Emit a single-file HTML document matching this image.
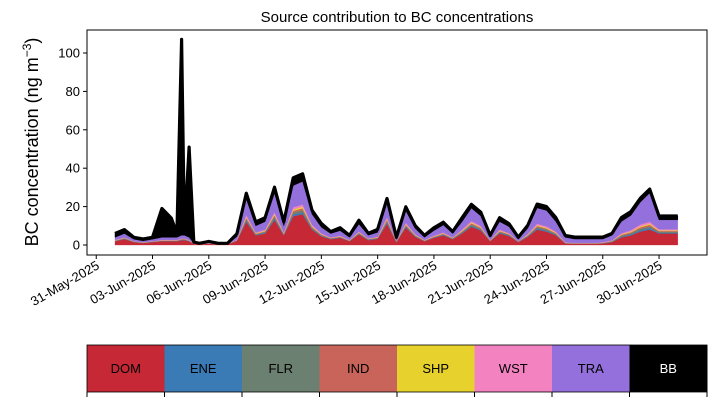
<!DOCTYPE html>
<html><head><meta charset="utf-8"><style>
body{margin:0;background:#fff;}
svg text{font-family:"Liberation Sans",sans-serif;}
</style></head><body>
<svg id="chart" width="717" height="402" viewBox="0 0 717 402" xmlns="http://www.w3.org/2000/svg"></svg>
<script>
// Sample times in days since 01-Jun-2025
const days = [0,0.5,1,1.5,2,2.5,3,3.3,3.55,3.7,3.95,4.2,4.5,5,5.5,6,6.5,7,7.5,8,8.5,9,9.5,10,10.5,11,11.5,12,12.5,13,13.5,14,14.5,15,15.5,16,16.5,17,17.5,18,18.5,19,19.5,20,20.5,21,21.5,22,22.5,23,23.5,24,24.5,25,25.5,26,26.5,27,27.5,28,28.5,29,29.5,30];
const categories = ["DOM","ENE","FLR","IND","SHP","WST","TRA","BB"];
const colors = ["#c62836","#3a7ab5","#6b8070","#c8645a","#e7d22d","#f283c0","#9370db","#000000"];
const DOM = [2,3,1.5,1,1.5,2,2,2,2.5,2.5,2,0.6,0.4,0.8,0.4,0.4,2.2,12,5,6,13,5,15,16,8,4.5,3,3.7,2,5.5,2.5,3.2,11,1.5,9,4.2,2,3.7,5,3,6,9.5,7.5,2,6,4.7,1.5,4.2,8,7,5,0.8,0.6,0.6,0.6,0.8,1.5,4,5,7,8,6,6,6];
const ENE = [.1,.2,.1,.1,.1,.1,.1,.1,.2,.2,.1,0,0,0,0,0,.1,.7,.3,.4,.8,.3,.9,1,.5,.3,.2,.2,.1,.3,.2,.2,.7,.1,.5,.3,.1,.2,.3,.2,.4,.6,.5,.1,.4,.3,.1,.3,.6,.5,.4,.1,.1,.1,.1,.1,.2,.4,.5,.7,.8,.4,.4,.4];
const FLR = [.1,.2,.1,.1,.1,.1,.1,.1,.2,.2,.1,0,0,0,0,0,.1,.8,.3,.4,.9,.3,1,1.1,.5,.3,.2,.2,.1,.3,.2,.2,.7,.1,.5,.3,.1,.2,.3,.2,.4,.6,.5,.1,.4,.3,.1,.3,.7,.6,.4,.1,.1,.1,.1,.1,.2,.5,.6,.8,.9,.5,.5,.5];
const IND = [.1,.2,.1,.1,.1,.1,.1,.1,.2,.2,.1,0,0,0,0,0,.1,.7,.3,.4,.8,.3,.9,1,.5,.3,.2,.2,.1,.3,.2,.2,.7,.1,.5,.3,.1,.2,.3,.2,.4,.6,.5,.1,.4,.3,.1,.3,.6,.5,.4,.1,.1,.1,.1,.1,.2,.4,.5,.7,.8,.4,.4,.4];
const SHP = [.1,.1,.1,.1,.1,.1,.1,.1,.1,.1,.1,0,0,0,0,0,.1,.5,.2,.3,.6,.2,.7,.8,.4,.2,.1,.2,.1,.2,.1,.2,.5,.1,.4,.2,.1,.2,.2,.1,.3,.4,.3,.1,.3,.2,.1,.2,.4,.4,.3,.1,.1,.1,.1,.1,.1,.3,.4,.5,.6,.3,.3,.3];
const WST = [.2,.2,.1,.1,.1,.2,.2,.2,.2,.2,.2,.1,0,.1,0,0,.2,.9,.4,.5,1,.4,1.1,1.2,.6,.4,.2,.3,.2,.4,.2,.3,.9,.1,.7,.3,.2,.3,.4,.2,.5,.8,.6,.2,.5,.4,.1,.4,.8,.7,.5,.2,.1,.1,.1,.2,.2,.5,.7,.9,1,.5,.5,.5];
const TRA = [1.4,2.1,1,0.7,1,1.4,1.4,1.4,1.7,1.7,1.4,.3,.2,.5,.2,.2,1.6,8.4,3.5,4.2,10,3.5,11.4,12,5.6,3.2,2.1,2.7,1.4,3.9,1.7,2.3,7.7,1,6.3,3,1.4,2.7,3.9,2.1,4.2,6.7,5.2,1.4,4.2,3.4,1,3,8.2,8.3,5.2,2.6,2,2,2,1.7,2.7,6.2,7.7,11.7,15,5,5,5];
const BB = [2,2,1,1,1,15,10,2,102,2,47,0.5,0.3,0.5,0.3,0.3,1.5,3,2,2,3,2,4,4,2,2,1,1.5,1,2,1,1.5,2,1,2,1.5,1,1.5,1.5,1,2,2,2,1,2,1.5,1,1.5,2,2,2,1,1,1,1,1,1,2,2,2,2,2,2,2];
const yTicks = [0,20,40,60,80,100];
const xTickLabels = ["31-May-2025","03-Jun-2025","06-Jun-2025","09-Jun-2025","12-Jun-2025","15-Jun-2025","18-Jun-2025","21-Jun-2025","24-Jun-2025","27-Jun-2025","30-Jun-2025"];
const xTickDays = [-1,2,5,8,11,14,17,20,23,26,29];

const series = [DOM,ENE,FLR,IND,SHP,WST,TRA,BB];
const NS = "http://www.w3.org/2000/svg";
const svg = document.getElementById("chart");
const L=87,R=707,T=30,B=255;
const xDay = d => 115 + d*18.76;
const xIdx = i => xDay(days[i]);
const yV = v => 245 - v*1.92;
function mk(tag, attrs, parent){const e=document.createElementNS(NS,tag);for(const k in attrs)e.setAttribute(k,attrs[k]);(parent||svg).appendChild(e);return e;}

const n = days.length;
let lower = new Array(n).fill(0);
series.forEach((s,k)=>{
  const upper = lower.map((v,i)=>v+s[i]);
  let d = "M"+upper.map((v,i)=>xIdx(i).toFixed(1)+","+yV(v).toFixed(1)).join(" L");
  for(let i=n-1;i>=0;i--) d += " L"+xIdx(i).toFixed(1)+","+yV(lower[i]).toFixed(1);
  d += " Z";
  const p = mk("path",{d:d,fill:colors[k],stroke:colors[k],"stroke-width":k===7?"0.5":"0.3"});
  
  
  if(k===7){
    const top = mk("path",{d:"M"+upper.map((v,i)=>xIdx(i).toFixed(1)+","+yV(v).toFixed(1)).join(" L"),fill:"none",stroke:"#000","stroke-width":"3.2","stroke-linejoin":"round"});
    
    
  }
  lower = upper;
});

const frame = mk("rect",{x:L,y:T,width:R-L,height:B-T,fill:"none",stroke:"#000","stroke-width":"1"});



yTicks.forEach(v=>{
  const y=yV(v);
  const t = mk("line",{x1:L-4,x2:L,y1:y,y2:y,stroke:"#000"});
  
  
  const tx = mk("text",{x:L-7,y:y+4.5,"text-anchor":"end","font-size":"13"});
  tx.textContent = v;
  
  
});
xTickDays.forEach((d,i)=>{
  const x=xDay(d);
  const t = mk("line",{x1:x,x2:x,y1:B,y2:B+4,stroke:"#000"});
  
  
  const tx = mk("text",{x:x+4,y:B+13,"text-anchor":"end","font-size":"13",transform:"rotate(-30 "+(x+4)+" "+(B+13)+")"});
  tx.textContent = xTickLabels[i];
  
  
});

const title = mk("text",{x:397,y:22,"text-anchor":"middle","font-size":"15"});
title.textContent="Source contribution to BC concentrations";



const yl = mk("text",{x:38,y:142,"text-anchor":"middle","font-size":"18",transform:"rotate(-90 38 142)"});
yl.innerHTML='BC concentration (ng m<tspan dy="-7" font-size="12">−3</tspan><tspan dy="7">)</tspan>';



const segW=(R-L)/8;
categories.forEach((c,k)=>{
  const x=L+k*segW;
  const r = mk("rect",{x:x,y:345,width:segW+0.5,height:47,fill:colors[k]});
  
  
  const t = mk("text",{x:x+segW/2,y:373,"text-anchor":"middle","font-size":"13",fill:k===7?"#fff":"#000"});
  t.textContent=c;
  
  
});
for(let k=0;k<=8;k++){
  const x=L+k*segW;
  const t = mk("line",{x1:x,x2:x,y1:392,y2:397,stroke:"#000"});
  
  
}
const lf = mk("rect",{x:L,y:345,width:R-L,height:47,fill:"none",stroke:"#000","stroke-width":"0.8"});


</script>
</body></html>
